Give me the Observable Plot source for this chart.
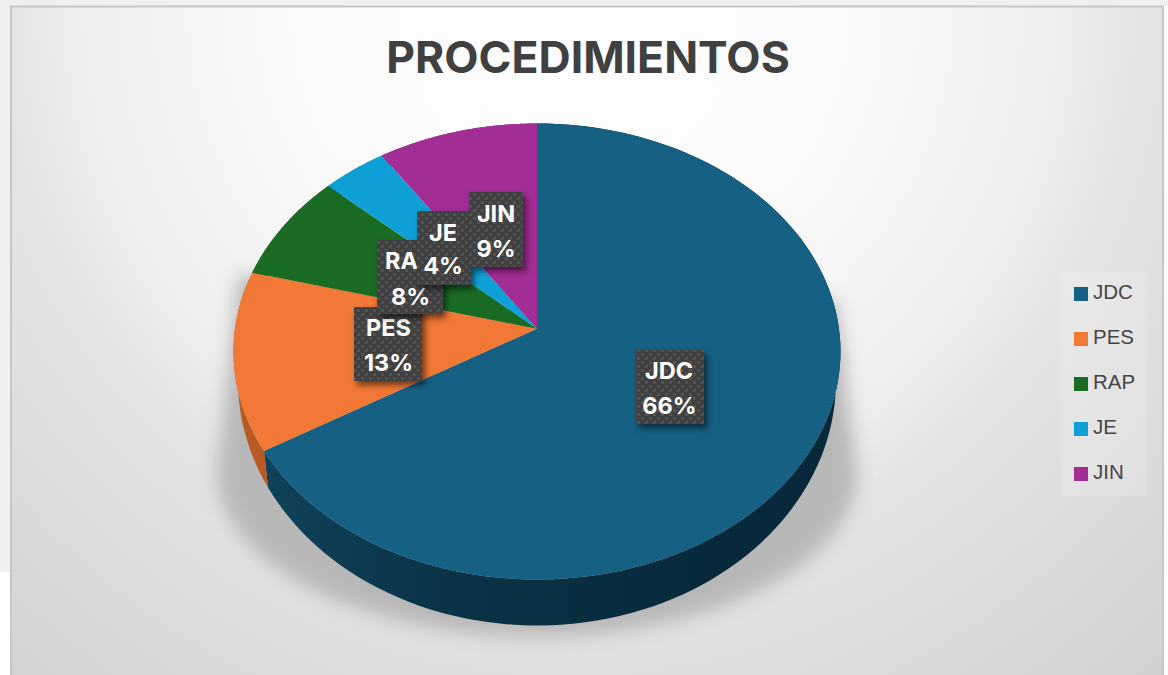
<!DOCTYPE html>
<html><head><meta charset="utf-8">
<script src="https://cdn.jsdelivr.net/npm/d3@7"></script>
<script src="https://cdn.jsdelivr.net/npm/@observablehq/plot@0.6"></script>
<style>html,body{margin:0;padding:0;background:#fff}svg{display:block}</style>
</head><body><div id="chart"></div>
<script>
// ---- data ----
const categories = ["JDC", "PES", "RAP", "JE", "JIN"];
const shares = [66.4, 12.7, 7.7, 3.8, 9.4];
const labelNames = ["JDC", "PES", "RA", "JE", "JIN"];
const topColors = ["#166083", "#f17835", "#1a6c25", "#10a0d8", "#a22d94"];
const wallColors = ["url(#wallBlue)", "#b85a24", "#124d1a", "#0b7299", "#731f6a"];
const titleText = "PROCEDIMIENTOS";

// ---- label placement (kept apart from the values) ----
const labelBoxes = [
  {x1: 636, x2: 704, y1: 350, y2: 424, cx: 669, cn: 668.5, b1: 378, b2: 413},
  {x1: 354, x2: 422, y1: 307, y2: 381, cx: 388, cn: 388, b1: 335, b2: 370},
  {x1: 377, x2: 443, y1: 240, y2: 314, cx: 410, cn: 401, b1: 268, b2: 304},
  {x1: 417, x2: 471, y1: 211, y2: 285, cx: 442.5, cn: 442.5, b1: 240, b2: 273},
  {x1: 469, x2: 523, y1: 192, y2: 267, cx: 495.5, cn: 495.5, b1: 221, b2: 256}
];

// ---- geometry of the tilted disc ----
const cx = 536.5, cy = 351, rx = 303.5, ry = 228, tilt = 0.1;
const lowerRx = 299, lowerCy = 380, lowerRy = 245;
const onDisc = t => {
  const a = Math.sin(t), b = Math.cos(t), d = 1 + tilt * b;
  return [a * Math.sqrt(1 - tilt * tilt) / d, (b + tilt) / d];
};
const total = d3.sum(shares);
let acc = 0;
const spans = shares.map(v => {
  const s = acc / total * 2 * Math.PI;
  acc += v;
  return [s, acc / total * 2 * Math.PI];
});
const arcTs = ([a, b]) => d3.range(0, 121).map(i => a + (b - a) * i / 120);

const facePts = categories.flatMap((c, i) => {
  const pts = arcTs(spans[i]).map(t => {
    const [X, Y] = onDisc(t);
    return {c, x: cx + rx * X, y: cy - ry * Y};
  });
  return [{c, x: cx, y: cy - ry * tilt}, ...pts];
});
const wallPolys = categories.map((c, i) => {
  const ts = arcTs(spans[i]);
  const up = ts.map(t => { const [X, Y] = onDisc(t); return {c, x: cx + rx * X, y: cy - ry * Y}; });
  const low = ts.map(t => { const [X, Y] = onDisc(t); return {c, x: cx + lowerRx * X, y: lowerCy - lowerRy * Y}; }).reverse();
  return [...up, ...low];
});
// soft floor shadow behind the disc
const shadowPts = [{x: 238, y: 275},
  ...d3.range(0, 181, 2).map(d => {
    const a = d * Math.PI / 180;
    return {x: 536.5 - 320 * Math.cos(a), y: 472 + 164 * Math.sin(a)};
  }),
  {x: 836, y: 300}];

// ---- helpers ----
const styled = (css) => ({
  render(i, s, v, d, c, next) {
    const g = next(i, s, v, d, c);
    g.style.cssText += css;
    return g;
  }
});
const sans = "Inter,'Noto Sans',sans-serif";

const labelMarks = categories.flatMap((c, i) => {
  const b = labelBoxes[i];
  const pct = Math.round(shares[i] / total * 100) + "%";
  return [
    Plot.rect([b], {x1: "x1", x2: "x2", y1: "y1", y2: "y2", fill: "url(#dots)",
      ...styled("filter:drop-shadow(3px 4px 3px rgba(0,0,0,.55));")}),
    Plot.text([b], {x: "cn", y: "b1", text: () => labelNames[i], lineAnchor: "bottom", fill: "#fff",
      fontSize: 23.5, fontWeight: 700, fontFamily: sans}),
    Plot.text([b], {x: "cx", y: "b2", text: () => pct, lineAnchor: "bottom", fill: "#fff",
      fontSize: 23.5, fontWeight: 700, fontFamily: sans})
  ];
});

const legendRows = categories.map((c, i) => ({c, i, color: topColors[i], y: 294 + 45 * i}));

const svg = Plot.plot({
  width: 1168, height: 675,
  margin: 0,
  x: {domain: [0, 1168], range: [0, 1168], axis: null},
  y: {domain: [0, 675], range: [0, 675], axis: null},
  color: {domain: categories, range: topColors},
  style: {background: "#fff"},
  marks: [
    // page strips and chart panel
    Plot.rect([{x1: 0, x2: 1168, y1: 0, y2: 6}, {x1: 0, x2: 10, y1: 0, y2: 572}],
      {x1: "x1", x2: "x2", y1: "y1", y2: "y2", fill: "#eef1f0"}),
    Plot.rect([{x1: 11, x2: 1163, y1: 6.5, y2: 680}],
      {x1: "x1", x2: "x2", y1: "y1", y2: "y2", fill: "url(#panel)", stroke: "#c6c6c6", strokeWidth: 2}),
    // title
    Plot.text([titleText], {x: () => 587.5, y: () => 72.5, text: d => d, lineAnchor: "bottom",
      fontSize: 44.5, fontWeight: 700, fill: "#404040", fontFamily: sans}),
    // floor shadow
    Plot.line(shadowPts, {x: "x", y: "y", fill: "#b8b8b8", stroke: "none",
      ...styled("filter:blur(9px);")}),
    // side wall
    ...wallPolys.map((poly, i) =>
      Plot.line(poly, {x: "x", y: "y", fill: wallColors[i], stroke: "none"})),
    // top face
    Plot.line(facePts, {x: "x", y: "y", z: "c", fill: "c", stroke: "none"}),
    // legend
    Plot.rect([{x1: 1061, x2: 1147, y1: 272, y2: 496}],
      {x1: "x1", x2: "x2", y1: "y1", y2: "y2", fill: "#fff", fillOpacity: 0.18}),
    Plot.rect(legendRows, {
      x1: () => 1074, x2: () => 1088,
      y1: d => d.y - 7, y2: d => d.y + 7, fill: "c"}),
    Plot.text(legendRows, {x: () => 1092.5, y: d => d.y + 4, text: "c", textAnchor: "start",
      lineAnchor: "bottom", fontSize: 20.5, fill: "#454545", fontFamily: "'Liberation Sans',sans-serif"}),
    // data labels
    ...labelMarks
  ]
});

// gradients and pattern referenced by the marks
const defs = d3.create("svg:defs");
const panel = defs.append("radialGradient").attr("id", "panel")
  .attr("gradientUnits", "userSpaceOnUse")
  .attr("cx", 570).attr("cy", 10).attr("r", 900);
[[0, "#ffffff"], [0.3, "#fbfbfb"], [0.55, "#eeeeee"], [0.63, "#e4e4e4"], [0.75, "#dedede"], [1, "#d1d1d1"]]
  .forEach(([o, c]) => panel.append("stop").attr("offset", o).attr("stop-color", c));
const wall = defs.append("linearGradient").attr("id", "wallBlue")
  .attr("gradientUnits", "userSpaceOnUse")
  .attr("x1", 262).attr("x2", 720).attr("y1", 0).attr("y2", 0);
[[0, "#0f425b"], [0.4, "#0a3347"], [1, "#07293a"]]
  .forEach(([o, c]) => wall.append("stop").attr("offset", o).attr("stop-color", c));
const dots = defs.append("pattern").attr("id", "dots")
  .attr("patternUnits", "userSpaceOnUse").attr("width", 8).attr("height", 8);
dots.append("rect").attr("width", 8).attr("height", 8).attr("fill", "#404040");
dots.append("rect").attr("x", 1).attr("y", 1).attr("width", 3).attr("height", 3).attr("fill", "#525252");
dots.append("rect").attr("x", 5).attr("y", 5).attr("width", 3).attr("height", 3).attr("fill", "#525252");
svg.insertBefore(defs.node(), svg.firstChild);

document.getElementById("chart").appendChild(svg);
</script>
</body></html>
